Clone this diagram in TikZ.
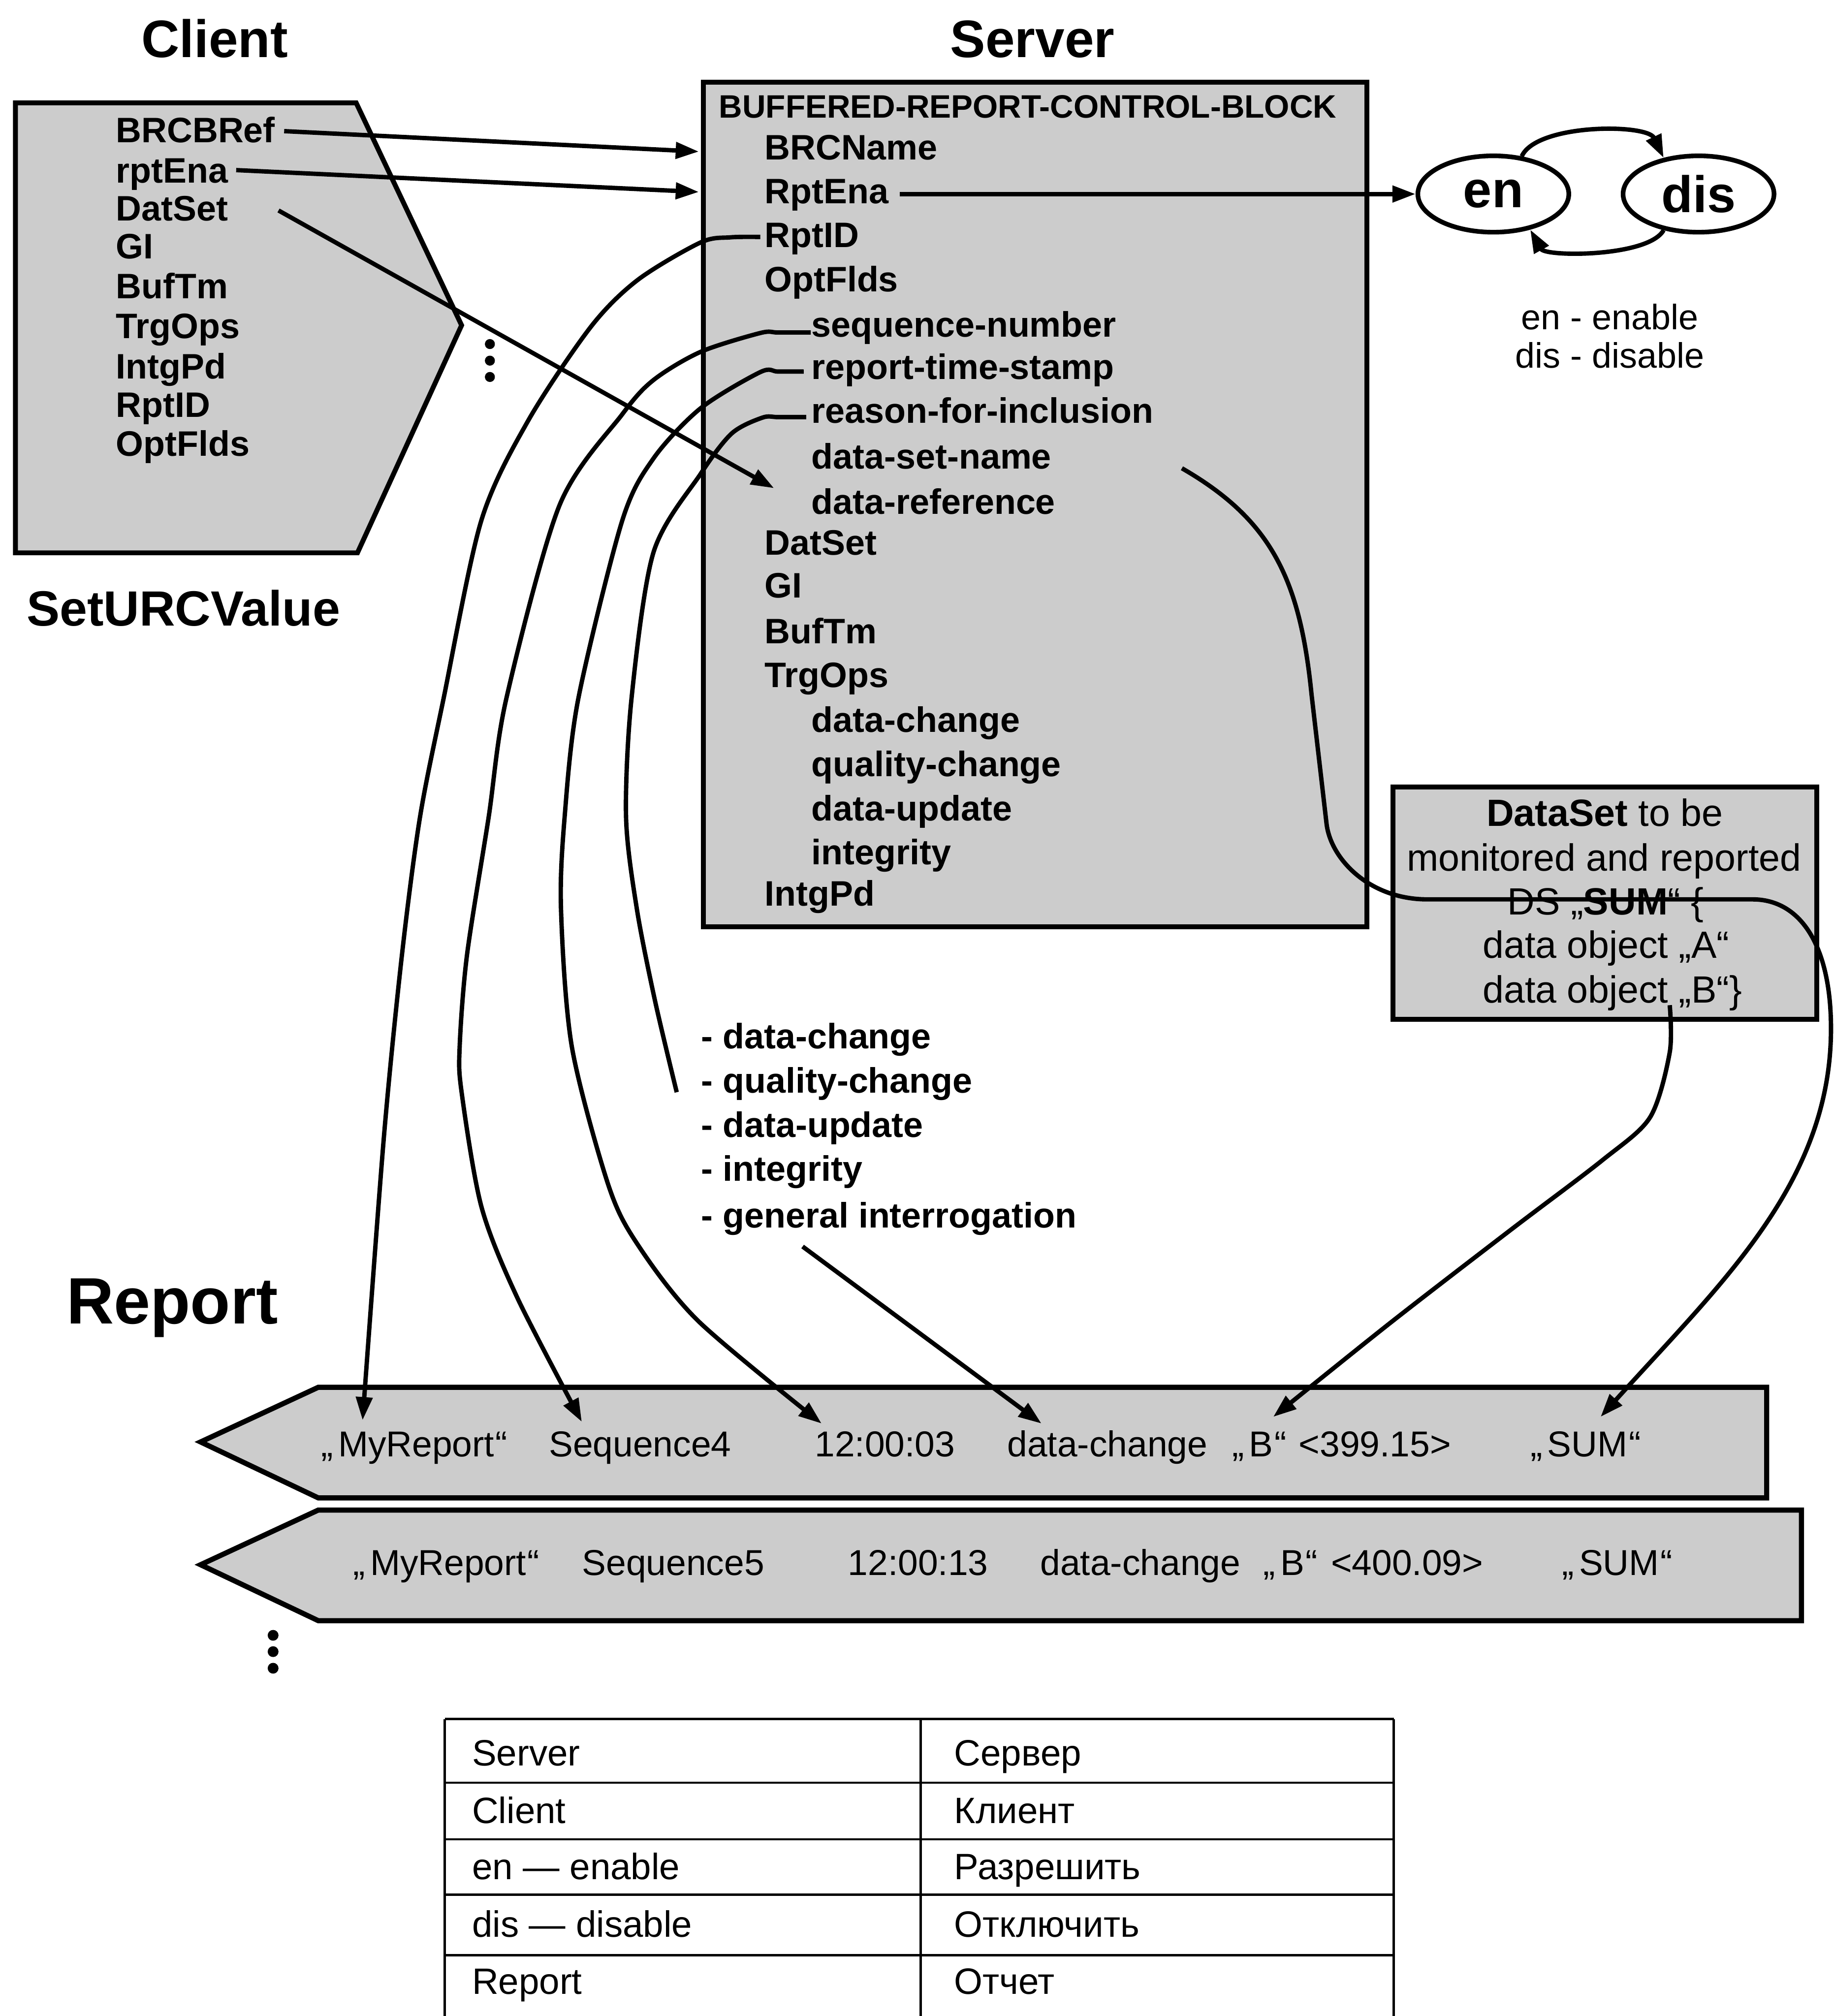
\documentclass[tikz,border=0pt]{standalone}
\usepackage{fontspec}
\setmainfont{Liberation Sans}
\usetikzlibrary{arrows.meta,shapes.geometric,calc}
\definecolor{boxgray}{gray}{0.8}
\begin{document}
\begin{tikzpicture}[x=1pt,y=-1pt,
  every node/.style={inner sep=0pt},
  lbl/.style={font=\bfseries\fontsize{27.5}{30}\selectfont, anchor=base west},
  rep/.style={font=\fontsize{28}{30}\selectfont, anchor=base west},
  dstxt/.style={font=\fontsize{29.5}{32}\selectfont},
  tbltxt/.style={font=\fontsize{28.5}{30}\selectfont, anchor=base west},
  ttl/.style={font=\bfseries\fontsize{41}{44}\selectfont, anchor=base},
  box/.style={draw, line width=3.8pt, fill=boxgray},
  band/.style={draw, line width=4pt, fill=boxgray},
  conn/.style={line width=3.4pt},
  arr/.style={conn, -{Triangle[length=18pt,width=12.5pt]}},
  stnode/.style={ellipse, draw, line width=3.6pt, minimum width=117.4pt,
    minimum height=59.4pt, font=\bfseries\fontsize{40}{42}\selectfont},
  tline/.style={line width=1.8pt},
]
\useasboundingbox (0,0) rectangle (1426,1568);

% ---------- titles ----------
\node[ttl] (tClient) at (167,44.5) {Client};
\node[ttl] (tServer) at (803,44.5) {Server};
\node[ttl, anchor=base west, font=\bfseries\fontsize{38.5}{40}\selectfont] (tSet) at (20.5,486.6) {SetURCValue};
\node[ttl, anchor=base west, font=\bfseries\fontsize{51}{54}\selectfont] (tReport) at (51.6,1029.4) {Report};

% ---------- client service parameters ----------
\draw[box] (12,80) -- (277,80) -- (359,253) -- (278,430) -- (12,430) -- cycle;
\node[lbl] (cBRCBRef) at (90,110.7) {BRCBRef};
\node[lbl] (cRptEna)  at (90,142.2) {rptEna};
\node[lbl] (cDatSet)  at (90,171.6) {DatSet};
\node[lbl] (cGI)      at (90,201.3) {GI};
\node[lbl] (cBufTm)   at (90,232.0) {BufTm};
\node[lbl] (cTrgOps)  at (90,263.0) {TrgOps};
\node[lbl] (cIntgPd)  at (90,294.4) {IntgPd};
\node[lbl] (cRptID)   at (90,324.3) {RptID};
\node[lbl] (cOptFlds) at (90,354.8) {OptFlds};

\fill (381,267.6) circle[radius=3.9];
\fill (381,280.5) circle[radius=3.9];
\fill (381,293.2) circle[radius=3.9];

% ---------- server control block ----------
\node[box, anchor=north west, minimum width=516pt, minimum height=657pt] (srv) at (545,62) {};
\node[lbl, font=\bfseries\fontsize{25.2}{27}\selectfont] (sHead) at (559,91.7) {BUFFERED-REPORT-CONTROL-BLOCK};
\node[lbl] (sBRCName) at (594.5,124.1) {BRCName};
\node[lbl] (sRptEna)  at (594.5,158.2) {RptEna};
\node[lbl] (sRptID)   at (594.5,192.3) {RptID};
\node[lbl] (sOptFlds) at (594.5,226.9) {OptFlds};
\node[lbl] (sSeq)     at (631,262.2) {sequence-number};
\node[lbl] (sRts)     at (631,295.1) {report-time-stamp};
\node[lbl] (sRfi)     at (631,329.2) {reason-for-inclusion};
\node[lbl] (sDsn)     at (631,364.6) {data-set-name};
\node[lbl] (sDref)    at (631,399.9) {data-reference};
\node[lbl] (sDatSet)  at (594.5,431.6) {DatSet};
\node[lbl] (sGI)      at (594.5,465.0) {GI};
\node[lbl] (sBufTm)   at (594.5,500.5) {BufTm};
\node[lbl] (sTrgOps)  at (594.5,534.5) {TrgOps};
\node[lbl] (sDc)      at (631,569.5) {data-change};
\node[lbl] (sQc)      at (631,604.0) {quality-change};
\node[lbl] (sDu)      at (631,638.5) {data-update};
\node[lbl] (sInt)     at (631,672.5) {integrity};
\node[lbl] (sIntgPd)  at (594.5,704.5) {IntgPd};

% ---------- enable / disable states ----------
\node[stnode] (en)  at (1161.4,150.9) {en};
\node[stnode] (dis) at (1321,150.9) {dis};
\draw[arr] (en.53) .. controls (1195,96) and (1281,96) .. (dis.134);
\draw[arr] (dis.226) .. controls (1282,200) and (1202,200) .. (en.316);
\node[font=\fontsize{27.5}{30}\selectfont, anchor=base] (legEn)  at (1252,256.1) {en - enable};
\node[font=\fontsize{27.5}{30}\selectfont, anchor=base] (legDis) at (1252,286.1) {dis - disable};

% ---------- data set ----------
\node[box, anchor=north west, minimum width=329.7pt, minimum height=180.5pt] (dsbox) at (1081.5,610.3) {};
\node[dstxt, anchor=base] (dsl1) at (1248,642.6) {\textbf{DataSet} to be};
\node[dstxt, anchor=base] (dsl2) at (1247.5,677.2) {monitored and reported};
\node[dstxt, anchor=base] (dsl3) at (1248.7,711.5) {DS „\textbf{SUM}“ \{};
\node[dstxt, anchor=base west] (dsl4) at (1153,745.3) {data object „A“};
\node[dstxt, anchor=base west] (dsl5) at (1153,779.9) {data object „B“\}};

% ---------- trigger options list ----------
\node[lbl] (lDc)   at (545.2,815.5) {- data-change};
\node[lbl] (lQual) at (545.2,850.0) {- quality-change};
\node[lbl] (lDu)   at (545.2,884.4) {- data-update};
\node[lbl] (lInt)  at (545.2,918.6) {- integrity};
\node[lbl] (lGen)  at (545.2,955.0) {- general interrogation};

% ---------- reports ----------
\draw[band] (156,1121.5) -- (247.5,1079) -- (1374,1079) -- (1374,1165) -- (247.5,1165) -- cycle;
\draw[band] (156,1217) -- (247.5,1174.5) -- (1401,1174.5) -- (1401,1260.5) -- (247.5,1260.5) -- cycle;

\node[rep] (r1a) at (249.6,1132.8) {„\kern4pt MyReport\kern1pt“};
\node[rep] (r1b) at (426.8,1132.8) {Sequence4};
\node[rep] (r1c) at (633.5,1132.8) {12:00:03};
\node[rep] (r1d) at (783.2,1132.8) {data-change};
\node[rep] (r1e) at (958,1132.8) {„\kern4pt B\kern1pt“};
\node[rep] (r1f) at (1010,1132.8) {<399.15>};
\node[rep] (r1g) at (1190,1132.8) {„\kern4pt SUM\kern1pt“};

\node[rep] (r2a) at (274.4,1225.3) {„\kern4pt MyReport\kern1pt“};
\node[rep] (r2b) at (452.6,1225.3) {Sequence5};
\node[rep] (r2c) at (659.3,1225.3) {12:00:13};
\node[rep] (r2d) at (808.9,1225.3) {data-change};
\node[rep] (r2e) at (982.3,1225.3) {„\kern4pt B\kern1pt“};
\node[rep] (r2f) at (1035,1225.3) {<400.09>};
\node[rep] (r2g) at (1214.6,1225.3) {„\kern4pt SUM\kern1pt“};

\fill (212.4,1271.9) circle[radius=4.2];
\fill (212.4,1284.6) circle[radius=4.2];
\fill (212.4,1297.5) circle[radius=4.2];

% ---------- translation table ----------
\draw[tline] (346,1337) -- (1084,1337);
\foreach \yy in {1386.5,1430.6,1473.6,1520.6} \draw[tline] (346,\yy) -- (1084,\yy);
\foreach \xx in {346,716,1084} \draw[tline] (\xx,1337) -- (\xx,1568);
\node[tbltxt] (tb11) at (367,1373.5) {Server};
\node[tbltxt] (tb12) at (742,1373.5) {Сервер};
\node[tbltxt] (tb21) at (367,1418.0) {Client};
\node[tbltxt] (tb22) at (742,1418.0) {Клиент};
\node[tbltxt] (tb31) at (367,1461.9) {en — enable};
\node[tbltxt] (tb32) at (742,1461.9) {Разрешить};
\node[tbltxt] (tb41) at (367,1506.5) {dis — disable};
\node[tbltxt] (tb42) at (742,1506.5) {Отключить};
\node[tbltxt] (tb51) at (367,1551.1) {Report};
\node[tbltxt] (tb52) at (742,1551.1) {Отчет};

% ---------- connector end points ----------
\coordinate (inBRC) at (543.5,117.9);
\coordinate (inEna) at (543.5,149.3);
\coordinate (dsTip) at (602,379.7);
\coordinate (oBRC)  at ($(cBRCBRef.base west)+(131,-8.7)$);
\coordinate (oCEna) at ($(cRptEna.base west)+(93.7,-9.9)$);
\coordinate (oCDs)  at ($(cDatSet.base west)+(126.6,-7.9)$);
\coordinate (oEna)  at ($(sRptEna.base west)+(105.4,-7.3)$);
\coordinate (oRptID) at ($(sRptID.base west)+(-3.2,-8)$);
\coordinate (oSeq)  at ($(sSeq.base west)+(-0.5,-3.6)$);
\coordinate (oRts)  at ($(sRts.base west)+(-5.9,-6.1)$);
\coordinate (oRfi)  at ($(sRfi.base west)+(-4,-4.8)$);
\coordinate (oDsn)  at ($(sDsn.base west)+(288.2,-0.4)$);
\coordinate (oB)    at ($(dsl5.base west)+(145.6,1.9)$);
\coordinate (oGen)  at ($(lGen.base west)+(79,14.5)$);
\coordinate (rfiEnd) at ($(lQual.base west)+(-18.9,-0.5)$);
\coordinate (tipMy)   at (282,1104.6);
\coordinate (tipSeq)  at (452.5,1105.9);
\coordinate (tipTime) at (639,1107.2);
\coordinate (tipDC)   at (810,1107.2);
\coordinate (tipB)    at (990.2,1102);
\coordinate (tipSUM)  at (1244.8,1102);

% ---------- connectors ----------
\draw[arr] (oBRC) -- (inBRC);
\draw[arr] (oCEna) -- (inEna);
\draw[arr] (oCDs) -- (dsTip);
\draw[arr] (oEna) -- (oEna -| en.west);

\draw[arr] plot[smooth] coordinates {(oRptID) (568,184.6) (544.8,188.6) (496,217.7) (459.5,254.2)
  (410.7,327.3) (374.2,405.3) (344.9,543.7) (326.6,635.8) (312.6,742.7) (298.5,885.1) (tipMy)};
\draw[arr] plot[smooth] coordinates {(oSeq) (605,258.6) (591.3,259) (544.8,273.7) (508.2,295.6)
  (483.8,322.4) (435.1,393.1) (393.7,543.7) (380,635.8) (363.2,742.7) (357.5,813.9) (359,849.5)
  (374.4,938.5) (402.5,1009.7) (tipSeq)};
\draw[arr] plot[smooth] coordinates {(oRts) (605,289) (591.3,289.4) (544.8,317.6) (508.2,356.6)
  (483.8,405.3) (449.7,543.7) (439.1,635.8) (436.3,707) (444.7,813.9) (472.8,920.7) (495.3,967)
  (543.1,1027.5) (tipTime)};
\draw[conn] plot[smooth] coordinates {(oRfi) (605,324.4) (593,324.8) (569.1,337.1) (544.8,368.7)
  (508.2,429.7) (491.1,543.7) (486.9,635.8) (495.3,707) (509.4,778.3) (rfiEnd)};
\draw[arr] (oGen) -- (tipDC);
\draw[arr] (oDsn) .. controls (988.5,404.2) and (1011,450) .. (1020,540)
  -- (1031.6,640) .. controls (1034.5,668) and (1065,699.5) .. (1110,699.5)
  -- (1363,699.5) .. controls (1400,699.5) and (1424,735) .. (1424,800)
  .. controls (1424,920) and (1338.5,998) .. (tipSUM);
\draw[arr] plot[smooth] coordinates {(oB) (1298.6,818.4) (1283.3,869) (1245.8,902.7) (1175.4,956.2)
  (1081.5,1028.7) (tipB)};
\end{tikzpicture}
\end{document}
